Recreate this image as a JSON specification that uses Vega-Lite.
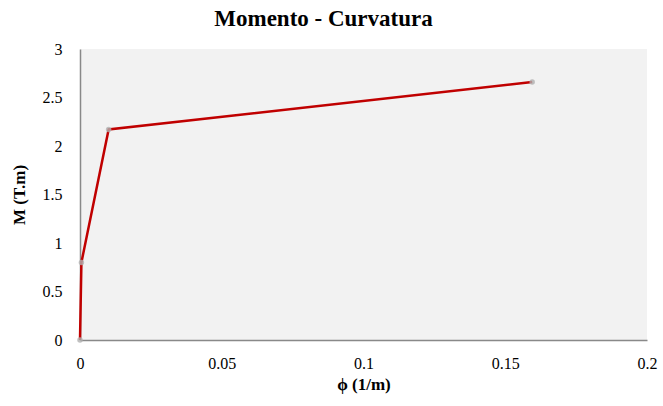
{
  "$schema": "https://vega.github.io/schema/vega-lite/v6.json",
  "autosize": "none",
  "width": 567,
  "height": 291,
  "padding": {"left": 80, "top": 49, "right": 16, "bottom": 66},
  "background": "white",
  "view": {"fill": "#f2f2f2", "stroke": null},
  "config": {
    "font": "Liberation Serif",
    "axis": {"labelFont": "Liberation Serif", "titleFont": "Liberation Serif", "labelFontSize": 16, "labelColor": "#000000"}
  },
  "title": {
    "text": "Momento - Curvatura",
    "font": "Liberation Serif",
    "fontSize": 23,
    "fontWeight": "bold",
    "color": "#000000",
    "anchor": "middle",
    "dx": -40,
    "offset": 10
  },
  "data": {
    "values": [
      {"phi": 0, "M": 0},
      {"phi": 0.0005, "M": 0.8},
      {"phi": 0.0101, "M": 2.17},
      {"phi": 0.1595, "M": 2.66}
    ]
  },
  "encoding": {
    "x": {
      "field": "phi",
      "type": "quantitative",
      "scale": {"domain": [0, 0.2], "nice": false},
      "axis": {
        "title": "ϕ (1/m)",
        "values": [0, 0.05, 0.1, 0.15, 0.2],
        "format": "~g",
        "grid": false,
        "ticks": false,
        "domainColor": "#898989",
        "domainWidth": 1.5,
        "labelFont": "Liberation Serif",
        "labelFontSize": 16,
        "labelColor": "#000000",
        "labelPadding": 15,
        "labelFlush": false,
        "titleFont": "Liberation Serif",
        "titleFontSize": 17,
        "titleFontWeight": "bold",
        "titleColor": "#000000",
        "titlePadding": 5,
        "encode": {"labels": {"update": {"font": {"value": "Liberation Serif"}, "fontSize": {"value": 16}}}}
      }
    },
    "y": {
      "field": "M",
      "type": "quantitative",
      "scale": {"domain": [0, 3], "nice": false},
      "axis": {
        "title": "M (T.m)",
        "values": [0, 0.5, 1, 1.5, 2, 2.5, 3],
        "format": "~g",
        "grid": false,
        "ticks": false,
        "domainColor": "#898989",
        "domainWidth": 1.5,
        "labelFont": "Liberation Serif",
        "labelFontSize": 16,
        "labelColor": "#000000",
        "labelPadding": 18,
        "labelFlush": false,
        "titleFont": "Liberation Serif",
        "titleFontSize": 17,
        "titleFontWeight": "bold",
        "titleColor": "#000000",
        "titlePadding": 14,
        "encode": {"labels": {"update": {"font": {"value": "Liberation Serif"}, "fontSize": {"value": 16}}}}
      }
    }
  },
  "layer": [
    {"mark": {"type": "line", "color": "#c00000", "strokeWidth": 2.5}},
    {"mark": {"type": "point", "filled": true, "color": "#b0b0b0", "size": 30, "opacity": 0.8}}
  ]
}
